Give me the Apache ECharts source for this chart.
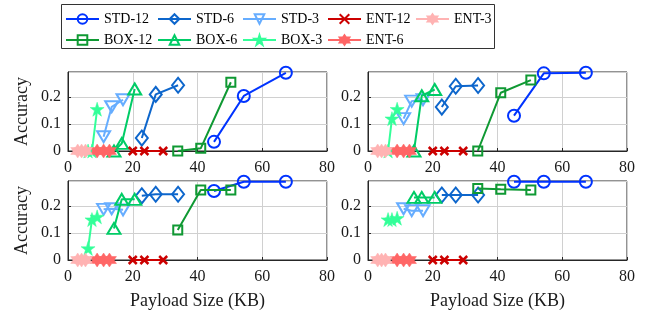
<!DOCTYPE html>
<html><head><meta charset="utf-8">
<script src="https://cdn.jsdelivr.net/npm/echarts@6/dist/echarts.min.js"></script>
<style>html,body{margin:0;padding:0;background:#fff}#c{width:655px;height:322px}</style>
</head><body><div id="c"></div>
<script>
// ---- data ----
const methods = ['STD-12','STD-6','STD-3','BOX-12','BOX-6','BOX-3','ENT-12','ENT-6','ENT-3'];
const xTicks = [0, 20, 40, 60, 80];
const yTicks = [0, 0.1, 0.2];
// payload sizes (KB) per method
const sizeSTD12 = [45.1, 54.3, 67.3];
const sizeSTD6  = [22.8, 27.1, 34.0];
const sizeSTD3  = [11.0, 13.5, 17.0];
const sizeBOX12 = [33.9, 41.0, 50.3];
const sizeBOX6  = [14.2, 16.6, 20.6];
const sizeBOX3  = [6.2, 7.4, 9.0];
const sizeENT12 = [20.0, 23.6, 29.4];
const sizeENT6  = [9.0, 11.0, 12.8];
const sizeENT3  = [3.0, 4.2, 5.4];
const sizes = [sizeSTD12, sizeSTD6, sizeSTD3, sizeBOX12, sizeBOX6, sizeBOX3, sizeENT12, sizeENT6, sizeENT3];
// accuracy per panel, in method order
const accTopLeft = [
  [0.034, 0.204, 0.29], [0.048, 0.21, 0.244], [0.053, 0.164, 0.19],
  [0, 0.01, 0.255], [0, 0.028, 0.23], [0, 0, 0.155],
  [0, 0, 0], [0, 0, 0], [0, 0, 0]
];
const accTopRight = [
  [0.131, 0.288, 0.29], [0.163, 0.24, 0.243], [0.12, 0.185, 0.19],
  [0, 0.216, 0.263], [0, 0.205, 0.228], [0, 0.12, 0.155],
  [0, 0, 0], [0, 0, 0], [0, 0, 0]
];
const accBottomLeft = [
  [0.256, 0.29, 0.29], [0.238, 0.244, 0.244], [0.188, 0.19, 0.186],
  [0.111, 0.26, 0.26], [0.117, 0.225, 0.225], [0.043, 0.15, 0.16],
  [0, 0, 0], [0, 0, 0], [0, 0, 0]
];
const accBottomRight = [
  [0.29, 0.29, 0.29], [0.241, 0.241, 0.241], [0.19, 0.183, 0.183],
  [0.265, 0.262, 0.26], [0.232, 0.232, 0.232], [0.15, 0.15, 0.155],
  [0, 0, 0], [0, 0, 0], [0, 0, 0]
];
const panels = [accTopLeft, accTopRight, accBottomLeft, accBottomRight];

// ---- styles ----
const FONT = 'Liberation Serif';
const STAR5 = 'path://M50,0 L61.2,34.5 L97.55,34.55 L68.17,55.9 L79.39,90.45 L50,69.1 L20.61,90.45 L31.83,55.9 L2.45,34.55 L38.8,34.5 Z';
const HEX = 'path://M50,0 L64.43,25 L93.3,25 L78.87,50 L93.3,75 L64.43,75 L50,100 L35.57,75 L6.7,75 L21.13,50 L6.7,25 L35.57,25 Z';
const CROSS = 'path://M0,0 L10,10 M10,0 L0,10';
const styleOf = {
  'STD-12': {c:'#0033ff', sym:'circle', size:12, fill:false},
  'STD-6':  {c:'#0d66cc', sym:'diamond', size:[12,15], fill:false},
  'STD-3':  {c:'#66adff', sym:'triangle', size:[13,11], fill:false, rot:180},
  'BOX-12': {c:'#0f9933', sym:'rect', size:9, fill:false},
  'BOX-6':  {c:'#00cc66', sym:'triangle', size:[13,11], fill:false},
  'BOX-3':  {c:'#33ff99', sym:STAR5, size:14, fill:true},
  'ENT-12': {c:'#cc0000', sym:CROSS, size:8, fill:false, bw:2.5},
  'ENT-6':  {c:'#ff6666', sym:HEX, size:14, fill:true},
  'ENT-3':  {c:'#ffb3b3', sym:HEX, size:14, fill:true}
};

const gridBoxes = [
  {left:68, top:72, width:259, height:79},
  {left:368, top:72, width:259, height:79},
  {left:68, top:181, width:259, height:79},
  {left:368, top:181, width:259, height:79}
];

const axisColor = '#262626';
const grids = gridBoxes.map(g => Object.assign({show:true, borderColor:axisColor, borderWidth:1, containLabel:false}, g));
const xAxes = gridBoxes.map((g, i) => ({
  type:'value', gridIndex:i, min:xTicks[0], max:xTicks[xTicks.length-1], interval:20,
  axisLine:{show:true, onZero:false, lineStyle:{color:axisColor}},
  axisTick:{show:true, inside:true, length:3, lineStyle:{color:axisColor}},
  axisLabel:{fontFamily:FONT, fontSize:16, color:'#1a1a1a', margin:9},
  splitLine:{show:true, lineStyle:{color:'#d0d0d0', width:1}},
  name: i >= 2 ? 'Payload Size (KB)' : '', nameLocation:'middle', nameGap:32,
  nameTextStyle:{fontFamily:FONT, fontSize:18, color:'#1a1a1a'}
}));
const yAxes = gridBoxes.map((g, i) => ({
  type:'value', gridIndex:i, min:0, max:0.293, interval:0.1,
  axisLine:{show:true, lineStyle:{color:axisColor}},
  axisTick:{show:true, inside:true, length:3, lineStyle:{color:axisColor}},
  axisLabel:{fontFamily:FONT, fontSize:16, color:'#1a1a1a', margin:7, showMaxLabel:false,
    formatter: v => { const r = Math.round(v*10)/10; return (Math.abs(v-r) < 1e-6 && yTicks.indexOf(r) >= 0) ? String(r) : ''; }},
  splitLine:{show:true, lineStyle:{color:'#d0d0d0', width:1}},
  name: (i % 2 === 0) ? 'Accuracy' : '', nameLocation:'middle', nameGap:37, nameRotate:90,
  nameTextStyle:{fontFamily:FONT, fontSize:18, color:'#1a1a1a'}
}));

const series = [];
panels.forEach((acc, p) => {
  methods.forEach((m, k) => {
    const st = styleOf[m];
    series.push({
      name:m, type:'line', xAxisIndex:p, yAxisIndex:p, clip:false,
      data: sizes[k].map((x, j) => [x, acc[k][j]]),
      symbol:st.sym, symbolSize:st.size, symbolRotate:st.rot || 0,
      lineStyle:{color:st.c, width:2},
      itemStyle:{color: st.fill ? st.c : 'rgba(0,0,0,0)', borderColor:st.c, borderWidth: st.fill ? 0.5 : (st.bw || 2)},
      emphasis:{disabled:true}, animation:false, z: 2 + k * 0.01
    });
  });
});

const legendCols = [['STD-12','BOX-12'],['STD-6','BOX-6'],['STD-3','BOX-3'],['ENT-12','ENT-6'],['ENT-3']];
const legendLefts = [65, 157, 242, 327, 415];
const legends = legendCols.map((col, i) => ({
  data: col.map(n => ({name:n, textStyle:{fontFamily:FONT, fontSize:14, color:'#000'}})),
  orient:'vertical', left: legendLefts[i], top: 12, itemGap: 7,
  itemWidth:33, itemHeight:12, padding:0, selectedMode:false,
  textStyle:{fontFamily:FONT, fontSize:14, color:'#000'}
}));

const chart = echarts.init(document.getElementById('c'), null, {renderer:'canvas'});
chart.setOption({
  animation:false,
  backgroundColor:'#fff',
  textStyle:{fontFamily:FONT},
  grid: grids, xAxis: xAxes, yAxis: yAxes, series: series, legend: legends,
  graphic:[{type:'rect', shape:{x:61.5, y:4.5, width:433, height:44}, style:{fill:'#fff', stroke:'#333', lineWidth:1}, z:-1}]
});
</script>
</body></html>
